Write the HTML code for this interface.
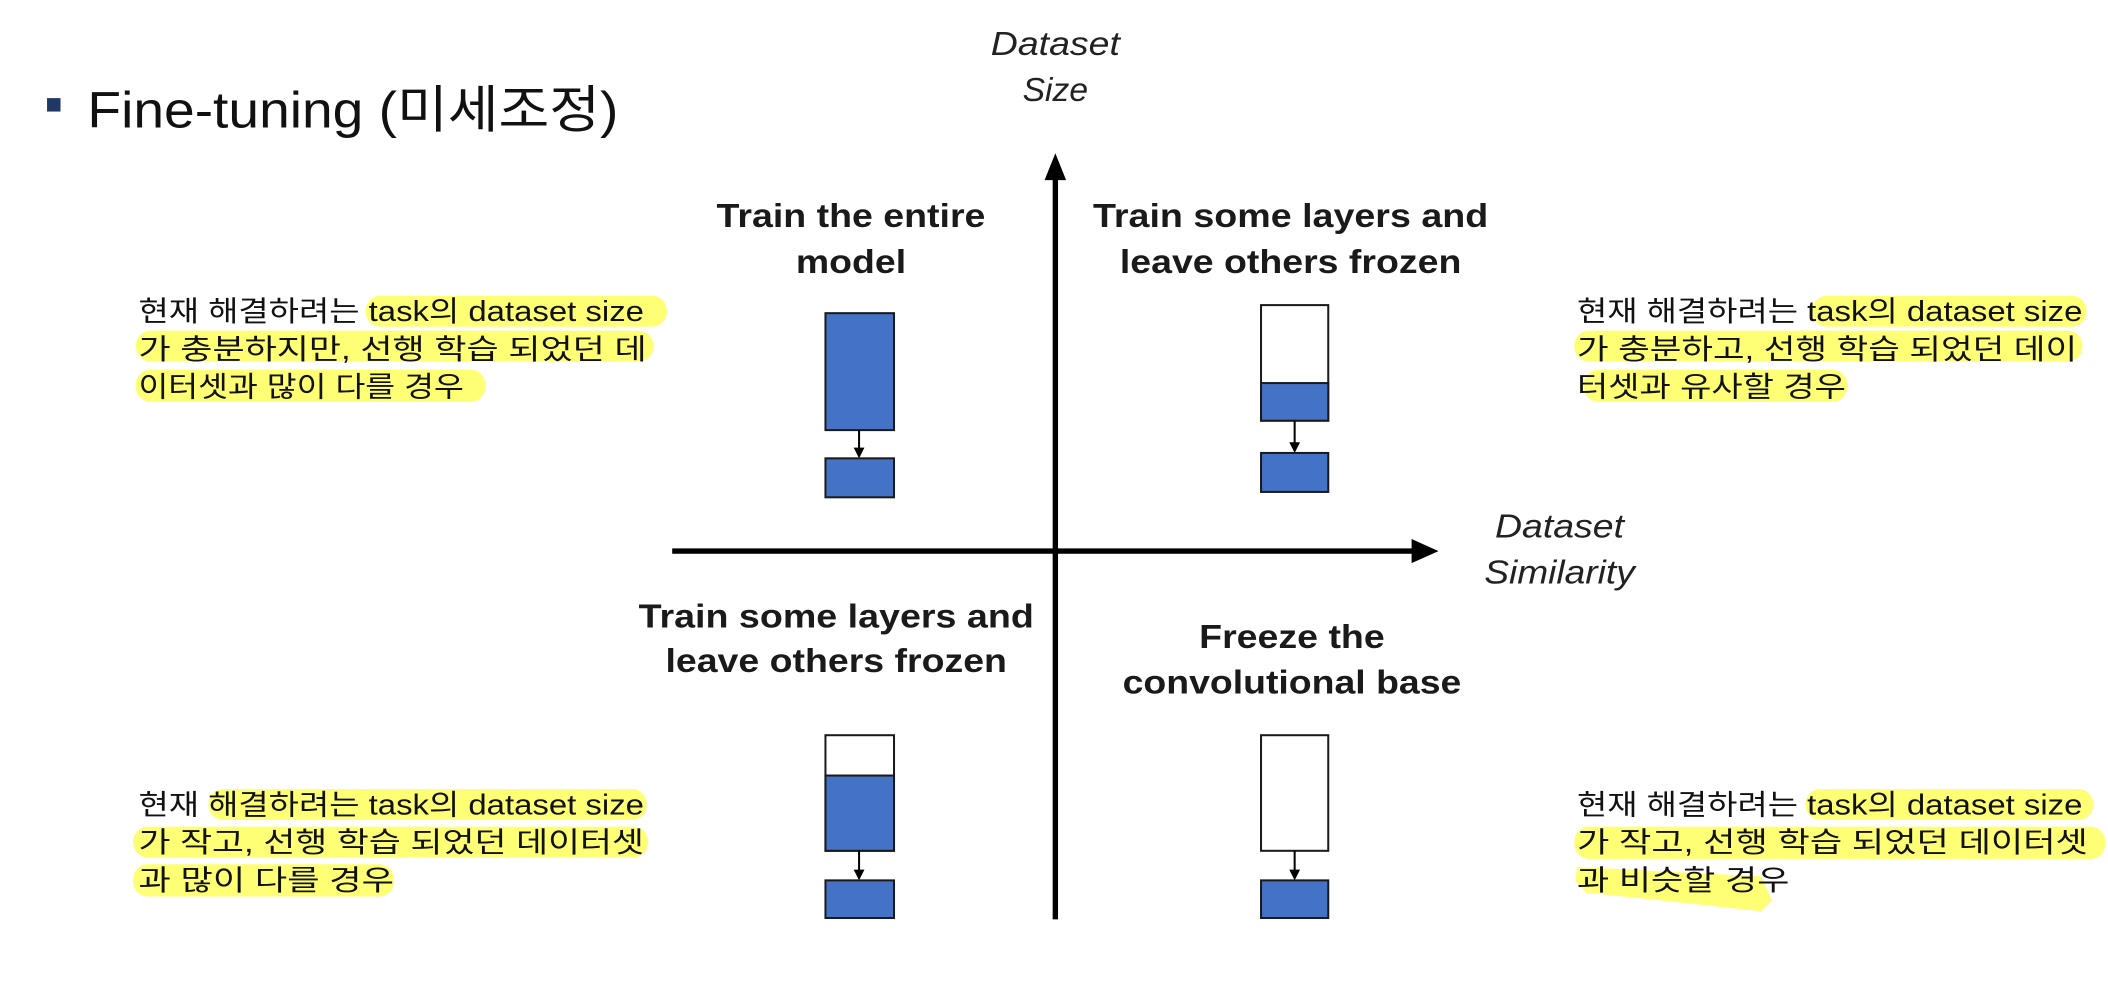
<!DOCTYPE html>
<html><head><meta charset="utf-8"><style>
html,body{margin:0;padding:0;background:#fff;width:2108px;height:1000px;overflow:hidden}
svg{display:block}
.kr{font-family:"Liberation Sans","Noto Sans CJK KR",sans-serif;font-size:21px;fill:#111}
.bl{font-family:"Liberation Sans",sans-serif;font-weight:bold;font-size:25px;fill:#1a1a1a}
.it{font-family:"Liberation Sans",sans-serif;font-style:italic;font-size:25px;fill:#222}
.hl{fill:#ffff66;opacity:0.9}
.box{stroke:#1a1a1a;stroke-width:1.5}
</style></head><body>
<svg width="2108" height="1000" viewBox="0 0 1568 744" preserveAspectRatio="none">
<rect x="0" y="0" width="1568" height="744" fill="#fff"/>
<rect x="35" y="73" width="10" height="10" fill="#1f3864"/>
<text x="65" y="95" font-size="38" style="font-family:'Liberation Sans','Noto Sans CJK KR',sans-serif" fill="#111" textLength="395" lengthAdjust="spacingAndGlyphs">Fine-tuning (미세조정)</text>

<g>
<text class="it" x="785" y="41" text-anchor="middle" textLength="96" lengthAdjust="spacingAndGlyphs">Dataset</text>
<text class="it" x="785" y="75" text-anchor="middle">Size</text></g>
<g>
<text class="it" x="1160" y="400" text-anchor="middle" textLength="96" lengthAdjust="spacingAndGlyphs">Dataset</text>
<text class="it" x="1160" y="434" text-anchor="middle" textLength="112" lengthAdjust="spacingAndGlyphs">Similarity</text></g>

<g>
<rect x="783" y="128" width="4" height="556" fill="#000"/>
<polygon points="785,114 777,134 793,134" fill="#000"/></g>
<g>
<rect x="500" y="408" width="555" height="4" fill="#000"/>
<polygon points="1070,410 1050,401 1050,419" fill="#000"/></g>

<g>
<text class="bl" x="633" y="169" text-anchor="middle" textLength="200" lengthAdjust="spacingAndGlyphs">Train the entire</text>
<text class="bl" x="633" y="203" text-anchor="middle" textLength="82" lengthAdjust="spacingAndGlyphs">model</text></g>
<g>
<text class="bl" x="960" y="169" text-anchor="middle" textLength="294" lengthAdjust="spacingAndGlyphs">Train some layers and</text>
<text class="bl" x="960" y="203" text-anchor="middle" textLength="254" lengthAdjust="spacingAndGlyphs">leave others frozen</text></g>
<g>
<text class="bl" x="622" y="467" text-anchor="middle" textLength="294" lengthAdjust="spacingAndGlyphs">Train some layers and</text>
<text class="bl" x="622" y="500" text-anchor="middle" textLength="254" lengthAdjust="spacingAndGlyphs">leave others frozen</text></g>
<g>
<text class="bl" x="961" y="482" text-anchor="middle" textLength="138" lengthAdjust="spacingAndGlyphs">Freeze the</text>
<text class="bl" x="961" y="516" text-anchor="middle" textLength="252" lengthAdjust="spacingAndGlyphs">convolutional base</text></g>

<g>
<rect class="box" x="614" y="233" width="51" height="87" fill="#4472c4"/>
<line x1="639" y1="320" x2="639" y2="334" stroke="#000" stroke-width="1.5"/><polygon points="639,341 635,333 643,333" fill="#000"/>
<rect class="box" x="614" y="341" width="51" height="29" fill="#4472c4"/></g>
<g>
<rect class="box" x="938" y="227" width="50" height="86" fill="#fff"/>
<rect class="box" x="938" y="285" width="50" height="28" fill="#4472c4"/>
<line x1="963" y1="313" x2="963" y2="330" stroke="#000" stroke-width="1.5"/><polygon points="963,337 959,329 967,329" fill="#000"/>
<rect class="box" x="938" y="337" width="50" height="29" fill="#4472c4"/></g>
<g>
<rect class="box" x="614" y="547" width="51" height="86" fill="#fff"/>
<rect class="box" x="614" y="577" width="51" height="56" fill="#4472c4"/>
<line x1="639" y1="633" x2="639" y2="648" stroke="#000" stroke-width="1.5"/><polygon points="639,655 635,647 643,647" fill="#000"/>
<rect class="box" x="614" y="655" width="51" height="28" fill="#4472c4"/></g>
<g>
<rect class="box" x="938" y="547" width="50" height="86" fill="#fff"/>
<line x1="963" y1="633" x2="963" y2="648" stroke="#000" stroke-width="1.5"/><polygon points="963,655 959,647 967,647" fill="#000"/>
<rect class="box" x="938" y="655" width="50" height="28" fill="#4472c4"/></g>

<g>
<rect class="hl" x="272" y="220" width="224" height="23" rx="11"/>
<rect class="hl" x="101" y="246" width="385" height="23" rx="11"/>
<rect class="hl" x="101" y="275" width="260" height="24" rx="11"/>
<text class="kr" x="103" y="239" textLength="376" lengthAdjust="spacingAndGlyphs">현재 해결하려는 task의 dataset size</text>
<text class="kr" x="103" y="267" textLength="378" lengthAdjust="spacingAndGlyphs">가 충분하지만, 선행 학습 되었던 데</text>
<text class="kr" x="103" y="295" textLength="242" lengthAdjust="spacingAndGlyphs">이터셋과 많이 다를 경우</text></g>
<g>
<rect class="hl" x="1348" y="220" width="204" height="23" rx="11"/>
<rect class="hl" x="1171" y="246" width="378" height="23" rx="11"/>
<rect class="hl" x="1178" y="275" width="196" height="24" rx="11"/>
<text class="kr" x="1173" y="239" textLength="376" lengthAdjust="spacingAndGlyphs">현재 해결하려는 task의 dataset size</text>
<text class="kr" x="1173" y="267" textLength="372" lengthAdjust="spacingAndGlyphs">가 충분하고, 선행 학습 되었던 데이</text>
<text class="kr" x="1173" y="295" textLength="200" lengthAdjust="spacingAndGlyphs">터셋과 유사할 경우</text></g>
<g>
<rect class="hl" x="155" y="587" width="326" height="23" rx="11"/>
<rect class="hl" x="99" y="615" width="383" height="23" rx="11"/>
<rect class="hl" x="99" y="643" width="194" height="24" rx="11"/>
<text class="kr" x="103" y="606" textLength="376" lengthAdjust="spacingAndGlyphs">현재 해결하려는 task의 dataset size</text>
<text class="kr" x="103" y="634" textLength="376" lengthAdjust="spacingAndGlyphs">가 작고, 선행 학습 되었던 데이터셋</text>
<text class="kr" x="103" y="662" textLength="190" lengthAdjust="spacingAndGlyphs">과 많이 다를 경우</text></g>
<g>
<rect class="hl" x="1343" y="587" width="214" height="23" rx="11"/>
<rect class="hl" x="1171" y="615" width="395" height="24" rx="11"/>
<polygon class="hl" points="1173,645 1310,652 1318,670 1310,678 1180,664 1172,656"/>
<text class="kr" x="1173" y="606" textLength="376" lengthAdjust="spacingAndGlyphs">현재 해결하려는 task의 dataset size</text>
<text class="kr" x="1173" y="634" textLength="380" lengthAdjust="spacingAndGlyphs">가 작고, 선행 학습 되었던 데이터셋</text>
<text class="kr" x="1173" y="662" textLength="158" lengthAdjust="spacingAndGlyphs">과 비슷할 경우</text></g>
</svg>
</body></html>
